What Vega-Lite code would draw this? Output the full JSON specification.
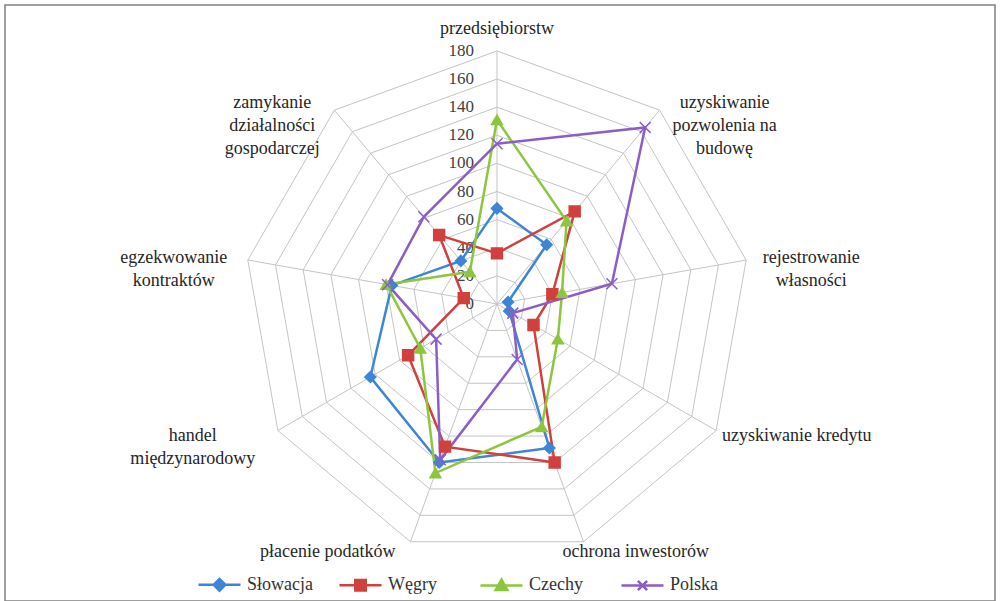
{
  "$schema": "https://vega.github.io/schema/vega-lite/v6.json",
  "autosize": {"type": "none"},
  "width": 990,
  "height": 596,
  "padding": {"left": 5, "top": 5, "right": 5, "bottom": 0},
  "background": "white",
  "config": {
    "view": {"stroke": "#808080", "strokeWidth": 1.5},
    "text": {"font": "Liberation Serif", "fontSize": 18, "fill": "#262626"}
  },
  "datasets": {
    "dane": [
      {"kraj": "Słowacja", "k": 0, "wartosc": 68},
      {"kraj": "Słowacja", "k": 1, "wartosc": 55},
      {"kraj": "Słowacja", "k": 2, "wartosc": 8},
      {"kraj": "Słowacja", "k": 3, "wartosc": 10},
      {"kraj": "Słowacja", "k": 4, "wartosc": 109},
      {"kraj": "Słowacja", "k": 5, "wartosc": 120},
      {"kraj": "Słowacja", "k": 6, "wartosc": 104},
      {"kraj": "Słowacja", "k": 7, "wartosc": 76},
      {"kraj": "Słowacja", "k": 8, "wartosc": 40},
      {"kraj": "Węgry", "k": 0, "wartosc": 36},
      {"kraj": "Węgry", "k": 1, "wartosc": 86},
      {"kraj": "Węgry", "k": 2, "wartosc": 40},
      {"kraj": "Węgry", "k": 3, "wartosc": 30},
      {"kraj": "Węgry", "k": 4, "wartosc": 120},
      {"kraj": "Węgry", "k": 5, "wartosc": 108},
      {"kraj": "Węgry", "k": 6, "wartosc": 73},
      {"kraj": "Węgry", "k": 7, "wartosc": 24},
      {"kraj": "Węgry", "k": 8, "wartosc": 64},
      {"kraj": "Czechy", "k": 0, "wartosc": 131},
      {"kraj": "Czechy", "k": 1, "wartosc": 77},
      {"kraj": "Czechy", "k": 2, "wartosc": 47},
      {"kraj": "Czechy", "k": 3, "wartosc": 50},
      {"kraj": "Czechy", "k": 4, "wartosc": 93},
      {"kraj": "Czechy", "k": 5, "wartosc": 128},
      {"kraj": "Czechy", "k": 6, "wartosc": 63},
      {"kraj": "Czechy", "k": 7, "wartosc": 80},
      {"kraj": "Czechy", "k": 8, "wartosc": 30},
      {"kraj": "Polska", "k": 0, "wartosc": 114},
      {"kraj": "Polska", "k": 1, "wartosc": 164},
      {"kraj": "Polska", "k": 2, "wartosc": 83},
      {"kraj": "Polska", "k": 3, "wartosc": 13},
      {"kraj": "Polska", "k": 4, "wartosc": 42},
      {"kraj": "Polska", "k": 5, "wartosc": 118},
      {"kraj": "Polska", "k": 6, "wartosc": 50},
      {"kraj": "Polska", "k": 7, "wartosc": 79},
      {"kraj": "Polska", "k": 8, "wartosc": 81}
    ],
    "kat": [
      {"k": 0, "etykieta": "przedsiębiorstw"},
      {"k": 1, "etykieta": "uzyskiwanie\npozwolenia na\nbudowę"},
      {"k": 2, "etykieta": "rejestrowanie\nwłasności"},
      {"k": 3, "etykieta": "uzyskiwanie kredytu"},
      {"k": 4, "etykieta": "ochrona inwestorów"},
      {"k": 5, "etykieta": "płacenie podatków"},
      {"k": 6, "etykieta": "handel\nmiędzynarodowy"},
      {"k": 7, "etykieta": "egzekwowanie\nkontraktów"},
      {"k": 8, "etykieta": "zamykanie\ndziałalności\ngospodarczej"}
    ],
    "siatka": [
      {"poziomy": [20, 40, 60, 80, 100, 120, 140, 160, 180], "ks": [0, 1, 2, 3, 4, 5, 6, 7, 8, 9]}
    ],
    "skala": [
      {"t": 0}, {"t": 20}, {"t": 40}, {"t": 60}, {"t": 80}, {"t": 100}, {"t": 120}, {"t": 140}, {"t": 160}, {"t": 180}
    ]
  },
  "encoding": {},
  "resolve": {"scale": {"fill": "independent", "stroke": "independent", "shape": "independent"}},
  "layer": [
    {
      "data": {"name": "siatka"},
      "transform": [
        {"flatten": ["poziomy"]},
        {"flatten": ["ks"]},
        {"calculate": "datum.poziomy * sin(datum.ks * 2 * PI / 9)", "as": "x"},
        {"calculate": "datum.poziomy * cos(datum.ks * 2 * PI / 9)", "as": "y"}
      ],
      "mark": {"type": "line", "stroke": "#c4c4c4", "strokeWidth": 1},
      "encoding": {
        "x": {"field": "x", "type": "quantitative", "scale": {"domain": [-350.0, 354.3], "nice": false, "zero": false}, "axis": null},
        "y": {"field": "y", "type": "quantitative", "scale": {"domain": [-211.3, 212.7], "nice": false, "zero": false}, "axis": null},
        "detail": {"field": "poziomy"},
        "order": {"field": "ks", "type": "quantitative"}
      }
    },
    {
      "data": {"name": "kat"},
      "transform": [
        {"calculate": "0", "as": "x0"},
        {"calculate": "0", "as": "y0"},
        {"calculate": "180 * sin(datum.k * 2 * PI / 9)", "as": "x1"},
        {"calculate": "180 * cos(datum.k * 2 * PI / 9)", "as": "y1"}
      ],
      "mark": {"type": "rule", "stroke": "#c4c4c4", "strokeWidth": 1},
      "encoding": {
        "x": {"field": "x0", "type": "quantitative"},
        "y": {"field": "y0", "type": "quantitative"},
        "x2": {"field": "x1"},
        "y2": {"field": "y1"}
      }
    },
    {
      "data": {"name": "skala"},
      "transform": [{"calculate": "0", "as": "x"}],
      "mark": {"type": "text", "align": "right", "baseline": "middle", "dx": -23, "font": "Liberation Serif", "fontSize": 17, "fill": "#404040"},
      "encoding": {
        "x": {"field": "x", "type": "quantitative"},
        "y": {"field": "t", "type": "quantitative"},
        "text": {"field": "t", "type": "quantitative"}
      }
    },
    {
      "data": {"name": "dane"},
      "transform": [
        {"calculate": "datum.wartosc * sin(datum.k * 2 * PI / 9)", "as": "x"},
        {"calculate": "datum.wartosc * cos(datum.k * 2 * PI / 9)", "as": "y"}
      ],
      "mark": {"type": "line", "strokeWidth": 2.5},
      "encoding": {
        "x": {"field": "x", "type": "quantitative"},
        "y": {"field": "y", "type": "quantitative"},
        "stroke": {"field": "kraj", "type": "nominal", "scale": {"domain": ["Słowacja", "Węgry", "Czechy", "Polska"], "range": ["#3d85d6", "#d0413e", "#8cc63e", "#8a5ec6"]}, "legend": null},
        "order": {"field": "k", "type": "quantitative"}
      }
    },
    {
      "data": {"name": "dane"},
      "transform": [
        {"window": [{"op": "first_value", "field": "wartosc", "as": "v0"}], "groupby": ["kraj"], "sort": [{"field": "k"}], "frame": [null, null]},
        {"filter": "datum.k == 8"},
        {"calculate": "datum.wartosc * sin(datum.k * 2 * PI / 9)", "as": "x"},
        {"calculate": "datum.wartosc * cos(datum.k * 2 * PI / 9)", "as": "y"},
        {"calculate": "0", "as": "xa"},
        {"calculate": "datum.v0", "as": "ya"}
      ],
      "mark": {"type": "rule", "strokeWidth": 2.5},
      "encoding": {
        "x": {"field": "x", "type": "quantitative"},
        "y": {"field": "y", "type": "quantitative"},
        "x2": {"field": "xa"},
        "y2": {"field": "ya"},
        "stroke": {"field": "kraj", "type": "nominal", "scale": {"domain": ["Słowacja", "Węgry", "Czechy", "Polska"], "range": ["#3d85d6", "#d0413e", "#8cc63e", "#8a5ec6"]}, "legend": null}
      }
    },
    {
      "data": {"name": "dane"},
      "transform": [
        {"calculate": "datum.wartosc * sin(datum.k * 2 * PI / 9)", "as": "x"},
        {"calculate": "datum.wartosc * cos(datum.k * 2 * PI / 9)", "as": "y"}
      ],
      "mark": {"type": "point", "filled": true, "size": 120, "strokeWidth": 1.5, "opacity": 1},
      "encoding": {
        "x": {"field": "x", "type": "quantitative"},
        "y": {"field": "y", "type": "quantitative"},
        "fill": {"field": "kraj", "type": "nominal", "scale": {"domain": ["Słowacja", "Węgry", "Czechy", "Polska"], "range": ["#3d85d6", "#d0413e", "#8cc63e", "#8a5ec6"]}, "legend": null},
        "stroke": {"field": "kraj", "type": "nominal", "scale": {"domain": ["Słowacja", "Węgry", "Czechy", "Polska"], "range": ["#3d85d6", "#d0413e", "#8cc63e", "#8a5ec6"]}, "legend": null},
        "shape": {"field": "kraj", "type": "nominal", "scale": {"domain": ["Słowacja", "Węgry", "Czechy", "Polska"], "range": ["diamond", "square", "triangle-up", "M-1,-1L1,1M-1,1L1,-1"]}, "legend": null}
      }
    },
    {
      "data": {"name": "dane"},
      "transform": [{"filter": "datum.k < 0"}],
      "mark": {"type": "point", "filled": true, "strokeWidth": 2.5, "opacity": 1},
      "encoding": {
        "fill": {"field": "kraj", "type": "nominal", "scale": {"domain": ["Słowacja", "Węgry", "Czechy", "Polska"], "range": ["#3d85d6", "#d0413e", "#8cc63e", "#8a5ec6"]},
          "legend": {"title": null, "orient": "none", "legendX": 192, "legendY": 557, "direction": "horizontal", "columns": 4, "gridAlign": "all", "columnPadding": 21, "symbolSize": 1764, "symbolStrokeWidth": 2.5, "symbolOpacity": 1, "labelFont": "Liberation Serif", "labelFontSize": 18, "labelColor": "#333333", "labelOffset": 5, "padding": 0}},
        "stroke": {"field": "kraj", "type": "nominal", "scale": {"domain": ["Słowacja", "Węgry", "Czechy", "Polska"], "range": ["#3d85d6", "#d0413e", "#8cc63e", "#8a5ec6"]},
          "legend": {"title": null, "orient": "none", "legendX": 192, "legendY": 557, "direction": "horizontal", "columns": 4, "gridAlign": "all", "columnPadding": 21, "symbolSize": 1764, "symbolStrokeWidth": 2.5, "symbolOpacity": 1, "labelFont": "Liberation Serif", "labelFontSize": 18, "labelColor": "#333333", "labelOffset": 5, "padding": 0}},
        "shape": {"field": "kraj", "type": "nominal", "scale": {"domain": ["Słowacja", "Węgry", "Czechy", "Polska"], "range": ["M-1,0L1,0M-0.28,0L0,-0.28L0.28,0L0,0.28Z", "M-1,0L1,0M-0.25,-0.25L0.25,-0.25L0.25,0.25L-0.25,0.25Z", "M-1,0L1,0M0,-0.28L0.28,0.22L-0.28,0.22Z", "M-1,0L1,0M-0.22,-0.22L0.22,0.22M-0.22,0.22L0.22,-0.22"]},
          "legend": {"title": null, "orient": "none", "legendX": 192, "legendY": 557, "direction": "horizontal", "columns": 4, "gridAlign": "all", "columnPadding": 21, "symbolSize": 1764, "symbolStrokeWidth": 2.5, "symbolOpacity": 1, "labelFont": "Liberation Serif", "labelFontSize": 18, "labelColor": "#333333", "labelOffset": 5, "padding": 0}}
      }
    },
    {
      "data": {"name": "kat"},
      "transform": [
        {"filter": "datum.k == 0"},
        {"calculate": "180 * sin(datum.k * 2 * PI / 9)", "as": "x"},
        {"calculate": "180 * cos(datum.k * 2 * PI / 9)", "as": "y"}
      ],
      "mark": {"type": "text", "font": "Liberation Serif", "align": "center", "baseline": "middle", "dx": 0, "dy": -22, "lineBreak": "\n", "lineHeight": 23},
      "encoding": {"x": {"field": "x", "type": "quantitative"}, "y": {"field": "y", "type": "quantitative"}, "text": {"field": "etykieta", "type": "nominal"}}
    },
    {
      "data": {"name": "kat"},
      "transform": [
        {"filter": "datum.k == 1"},
        {"calculate": "180 * sin(datum.k * 2 * PI / 9)", "as": "x"},
        {"calculate": "180 * cos(datum.k * 2 * PI / 9)", "as": "y"}
      ],
      "mark": {"type": "text", "font": "Liberation Serif", "align": "center", "baseline": "middle", "dx": 65, "dy": -7, "lineBreak": "\n", "lineHeight": 23},
      "encoding": {"x": {"field": "x", "type": "quantitative"}, "y": {"field": "y", "type": "quantitative"}, "text": {"field": "etykieta", "type": "nominal"}}
    },
    {
      "data": {"name": "kat"},
      "transform": [
        {"filter": "datum.k == 2"},
        {"calculate": "180 * sin(datum.k * 2 * PI / 9)", "as": "x"},
        {"calculate": "180 * cos(datum.k * 2 * PI / 9)", "as": "y"}
      ],
      "mark": {"type": "text", "font": "Liberation Serif", "align": "center", "baseline": "middle", "dx": 65, "dy": -2, "lineBreak": "\n", "lineHeight": 23},
      "encoding": {"x": {"field": "x", "type": "quantitative"}, "y": {"field": "y", "type": "quantitative"}, "text": {"field": "etykieta", "type": "nominal"}}
    },
    {
      "data": {"name": "kat"},
      "transform": [
        {"filter": "datum.k == 3"},
        {"calculate": "180 * sin(datum.k * 2 * PI / 9)", "as": "x"},
        {"calculate": "180 * cos(datum.k * 2 * PI / 9)", "as": "y"}
      ],
      "mark": {"type": "text", "font": "Liberation Serif", "align": "left", "baseline": "middle", "dx": 6, "dy": 6, "lineBreak": "\n", "lineHeight": 23},
      "encoding": {"x": {"field": "x", "type": "quantitative"}, "y": {"field": "y", "type": "quantitative"}, "text": {"field": "etykieta", "type": "nominal"}}
    },
    {
      "data": {"name": "kat"},
      "transform": [
        {"filter": "datum.k == 4"},
        {"calculate": "180 * sin(datum.k * 2 * PI / 9)", "as": "x"},
        {"calculate": "180 * cos(datum.k * 2 * PI / 9)", "as": "y"}
      ],
      "mark": {"type": "text", "font": "Liberation Serif", "align": "left", "baseline": "middle", "dx": -21, "dy": 10, "lineBreak": "\n", "lineHeight": 23},
      "encoding": {"x": {"field": "x", "type": "quantitative"}, "y": {"field": "y", "type": "quantitative"}, "text": {"field": "etykieta", "type": "nominal"}}
    },
    {
      "data": {"name": "kat"},
      "transform": [
        {"filter": "datum.k == 5"},
        {"calculate": "180 * sin(datum.k * 2 * PI / 9)", "as": "x"},
        {"calculate": "180 * cos(datum.k * 2 * PI / 9)", "as": "y"}
      ],
      "mark": {"type": "text", "font": "Liberation Serif", "align": "right", "baseline": "middle", "dx": -15, "dy": 10, "lineBreak": "\n", "lineHeight": 23},
      "encoding": {"x": {"field": "x", "type": "quantitative"}, "y": {"field": "y", "type": "quantitative"}, "text": {"field": "etykieta", "type": "nominal"}}
    },
    {
      "data": {"name": "kat"},
      "transform": [
        {"filter": "datum.k == 6"},
        {"calculate": "180 * sin(datum.k * 2 * PI / 9)", "as": "x"},
        {"calculate": "180 * cos(datum.k * 2 * PI / 9)", "as": "y"}
      ],
      "mark": {"type": "text", "font": "Liberation Serif", "align": "center", "baseline": "middle", "dx": -85, "dy": 6, "lineBreak": "\n", "lineHeight": 23},
      "encoding": {"x": {"field": "x", "type": "quantitative"}, "y": {"field": "y", "type": "quantitative"}, "text": {"field": "etykieta", "type": "nominal"}}
    },
    {
      "data": {"name": "kat"},
      "transform": [
        {"filter": "datum.k == 7"},
        {"calculate": "180 * sin(datum.k * 2 * PI / 9)", "as": "x"},
        {"calculate": "180 * cos(datum.k * 2 * PI / 9)", "as": "y"}
      ],
      "mark": {"type": "text", "font": "Liberation Serif", "align": "center", "baseline": "middle", "dx": -74, "dy": -2, "lineBreak": "\n", "lineHeight": 23},
      "encoding": {"x": {"field": "x", "type": "quantitative"}, "y": {"field": "y", "type": "quantitative"}, "text": {"field": "etykieta", "type": "nominal"}}
    },
    {
      "data": {"name": "kat"},
      "transform": [
        {"filter": "datum.k == 8"},
        {"calculate": "180 * sin(datum.k * 2 * PI / 9)", "as": "x"},
        {"calculate": "180 * cos(datum.k * 2 * PI / 9)", "as": "y"}
      ],
      "mark": {"type": "text", "font": "Liberation Serif", "align": "center", "baseline": "middle", "dx": -62, "dy": -7, "lineBreak": "\n", "lineHeight": 23},
      "encoding": {"x": {"field": "x", "type": "quantitative"}, "y": {"field": "y", "type": "quantitative"}, "text": {"field": "etykieta", "type": "nominal"}}
    }
  ]
}
